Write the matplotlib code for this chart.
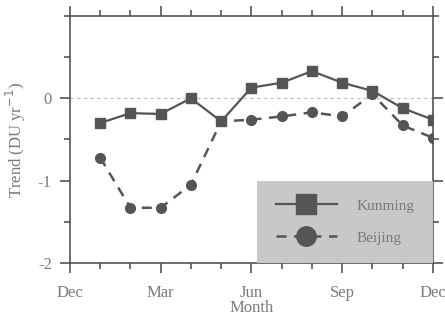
import matplotlib
matplotlib.use('Agg')
import matplotlib.pyplot as plt
from matplotlib.ticker import MultipleLocator
import numpy as np

months = [1, 2, 3, 4, 5, 6, 7, 8, 9, 10, 11, 12]
kunming = [-0.30, -0.18, -0.19, 0.00, -0.28, 0.13, 0.19, 0.33, 0.19, 0.09, -0.12, -0.26]
beijing = [-0.72, -1.33, -1.33, -1.05, -0.28, -0.26, -0.22, -0.17, -0.22, 0.05, -0.33, -0.48]
xtick_pos = [0, 3, 6, 9, 12]
xtick_labels = ['Dec', 'Mar', 'Jun', 'Sep', 'Dec']
ytick_pos = [-2, -1, 0]
ytick_labels = ['-2', '-1', '0']

plt.rcParams['font.family'] = ['Liberation Serif', 'DejaVu Serif']
txtcolor = '#7a7a7a'
linecolor = '#555555'

fig = plt.figure(figsize=(4.45, 3.21), dpi=100)
ax = fig.add_axes([0.157, 0.181, 0.816, 0.769])

# zero reference line
ax.axhline(0, color='#bbbbbb', linestyle=(0, (3, 3)), linewidth=0.8, zorder=1)

ax.plot(months, kunming, color=linecolor, linestyle='-', linewidth=1.6,
        marker='s', markersize=7, label='Kunming', zorder=3)
ax.plot(months, beijing, color=linecolor, linestyle=(0, (4, 3)), linewidth=1.8,
        marker='o', markersize=7, label='Beijing', zorder=3)

ax.set_xlim(0, 12)
ax.set_ylim(-2, 1)
ax.set_xticks(xtick_pos)
ax.set_xticklabels(xtick_labels)
ax.xaxis.set_minor_locator(MultipleLocator(1))
ax.set_yticks(ytick_pos)
ax.set_yticklabels(ytick_labels)
ax.yaxis.set_minor_locator(MultipleLocator(0.5))

ax.tick_params(which='both', direction='out', top=True, right=True,
               colors=linecolor, labelcolor=txtcolor, labelsize=12, width=1.2)
ax.tick_params(which='major', length=7)
ax.tick_params(which='minor', length=4)
ax.tick_params(axis='x', pad=9)
ax.tick_params(axis='y', pad=6)
for s in ax.spines.values():
    s.set_color(linecolor)
    s.set_linewidth(1.2)

ax.set_xlabel('Month', color=txtcolor, fontsize=12, labelpad=-1)
ax.set_ylabel('Trend (DU yr$^{-1}$)', color=txtcolor, fontsize=12, labelpad=7)

leg = ax.legend(loc='lower right', borderaxespad=0, facecolor='#c8c8c8',
                edgecolor='none', framealpha=1, fancybox=False, fontsize=11,
                markerscale=2, handlelength=4.0, handletextpad=1.3,
                borderpad=1.2, labelspacing=1.2)
for t in leg.get_texts():
    t.set_color(txtcolor)

fig.savefig('out.png', dpi=100)
